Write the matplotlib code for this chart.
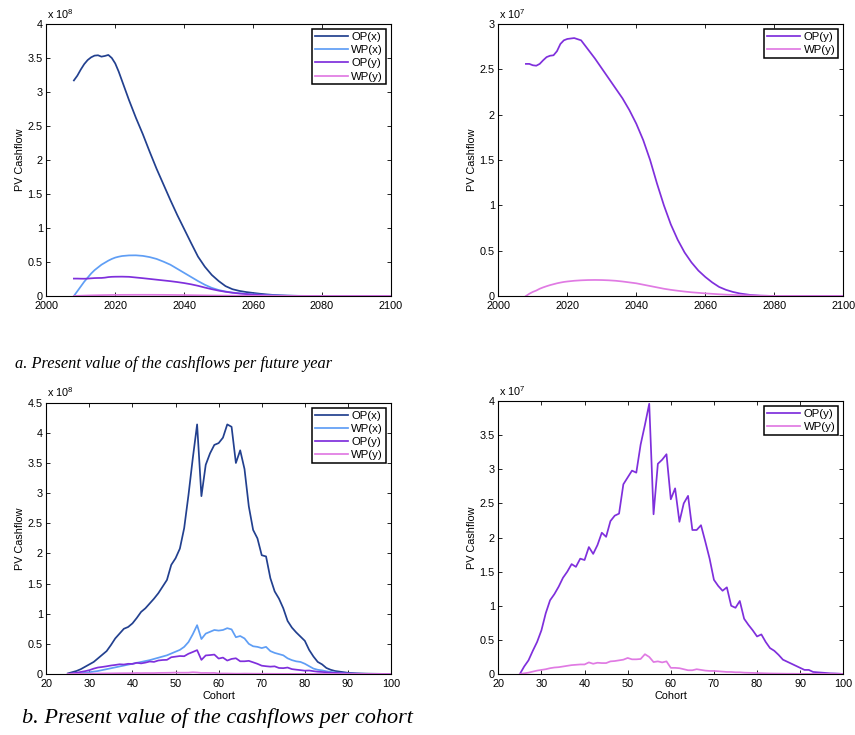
import matplotlib
matplotlib.use("Agg")
import matplotlib.pyplot as plt
from matplotlib.ticker import FuncFormatter, MultipleLocator
import numpy as np

plt.rcParams['font.family'] = ['Liberation Sans', 'DejaVu Sans']
plt.rcParams['mathtext.fontset'] = 'custom'
plt.rcParams['mathtext.rm'] = 'Liberation Sans'
plt.rcParams['mathtext.it'] = 'Liberation Sans:italic'

# ---------------- data: per future year ----------------
years = [2008, 2009, 2010, 2011, 2012, 2013, 2014, 2015, 2016, 2017, 2018, 2019,
         2020, 2021, 2022, 2024, 2026, 2028, 2030, 2032, 2034, 2036, 2038, 2040,
         2042, 2044, 2046, 2048, 2050, 2052, 2054, 2056, 2058, 2060, 2062, 2064,
         2066, 2068, 2070, 2073, 2076, 2080, 2090, 2100]

# units of 1e8
op_x_year = [3.17, 3.24, 3.33, 3.41, 3.47, 3.51, 3.535, 3.54, 3.52, 3.53, 3.545, 3.50,
             3.42, 3.30, 3.16, 2.88, 2.62, 2.38, 2.12, 1.87, 1.64, 1.41, 1.19, 0.985,
             0.78, 0.58, 0.43, 0.31, 0.22, 0.145, 0.10, 0.075, 0.058, 0.045, 0.033, 0.023,
             0.015, 0.009, 0.005, 0.002, 0.001, 0.0, 0.0, 0.0]
wp_x_year = [0.0, 0.07, 0.14, 0.21, 0.27, 0.33, 0.38, 0.42, 0.46, 0.49, 0.52, 0.545,
             0.565, 0.578, 0.588, 0.597, 0.598, 0.59, 0.572, 0.545, 0.505, 0.46, 0.40, 0.34,
             0.28, 0.22, 0.165, 0.12, 0.088, 0.066, 0.05, 0.04, 0.032, 0.025, 0.019, 0.014,
             0.01, 0.007, 0.005, 0.003, 0.0015, 0.0, 0.0, 0.0]
# units of 1e7
op_y_year = [2.56, 2.56, 2.545, 2.54, 2.56, 2.60, 2.635, 2.65, 2.655, 2.70, 2.78, 2.82,
             2.835, 2.84, 2.845, 2.82, 2.72, 2.62, 2.51, 2.40, 2.29, 2.18, 2.05, 1.90,
             1.72, 1.50, 1.24, 1.00, 0.79, 0.62, 0.48, 0.37, 0.28, 0.21, 0.15, 0.10,
             0.068, 0.045, 0.028, 0.012, 0.004, 0.0, 0.0, 0.0]
wp_y_year = [0.0, 0.025, 0.045, 0.06, 0.08, 0.095, 0.108, 0.12, 0.13, 0.14, 0.148, 0.155,
             0.16, 0.164, 0.168, 0.173, 0.176, 0.177, 0.176, 0.173, 0.168, 0.16, 0.15, 0.14,
             0.125, 0.11, 0.095, 0.08, 0.068, 0.058, 0.049, 0.041, 0.035, 0.029, 0.024, 0.019,
             0.015, 0.012, 0.009, 0.006, 0.003, 0.001, 0.0, 0.0]

# ---------------- data: per cohort ----------------
cohorts = list(range(25, 101))
# units of 1e8
op_x_coh = [0.01, 0.03, 0.05, 0.08, 0.12, 0.16, 0.20, 0.26, 0.32, 0.38,
            0.48, 0.59, 0.67, 0.75, 0.78, 0.84, 0.93, 1.03, 1.09, 1.17,
            1.25, 1.34, 1.45, 1.56, 1.81, 1.92, 2.08, 2.42, 2.97, 3.58,
            4.14, 2.95, 3.47, 3.66, 3.80, 3.83, 3.92, 4.14, 4.10, 3.50,
            3.71, 3.40, 2.78, 2.39, 2.25, 1.97, 1.95, 1.59, 1.37, 1.25,
            1.09, 0.88, 0.77, 0.69, 0.62, 0.55, 0.40, 0.29, 0.20, 0.16,
            0.10, 0.07, 0.05, 0.04, 0.03, 0.02, 0.015, 0.01, 0.008, 0.006,
            0.005, 0.004, 0.003, 0.002, 0.001, 0.0]
wp_x_coh = [0.0, 0.005, 0.01, 0.015, 0.02, 0.03, 0.04, 0.05, 0.065, 0.08,
            0.095, 0.11, 0.125, 0.14, 0.155, 0.17, 0.185, 0.20, 0.215, 0.23,
            0.25, 0.27, 0.29, 0.31, 0.34, 0.37, 0.40, 0.45, 0.53, 0.66,
            0.81, 0.58, 0.67, 0.70, 0.73, 0.72, 0.73, 0.76, 0.74, 0.61,
            0.63, 0.59, 0.50, 0.46, 0.45, 0.43, 0.45, 0.38, 0.35, 0.33,
            0.31, 0.26, 0.23, 0.21, 0.20, 0.17, 0.13, 0.09, 0.07, 0.06,
            0.045, 0.035, 0.025, 0.018, 0.012, 0.008, 0.006, 0.005, 0.004, 0.003,
            0.002, 0.002, 0.001, 0.001, 0.0, 0.0]
# units of 1e7
op_y_coh = [0.0, 0.11, 0.20, 0.34, 0.47, 0.64, 0.89, 1.08, 1.17, 1.28,
            1.41, 1.50, 1.61, 1.57, 1.69, 1.67, 1.86, 1.76, 1.89, 2.07,
            2.01, 2.24, 2.32, 2.35, 2.78, 2.88, 2.98, 2.95, 3.36, 3.65,
            3.96, 2.34, 3.08, 3.14, 3.22, 2.56, 2.72, 2.23, 2.50, 2.61,
            2.11, 2.11, 2.18, 1.94, 1.69, 1.38, 1.29, 1.22, 1.27, 1.00,
            0.97, 1.07, 0.81, 0.72, 0.64, 0.55, 0.58, 0.47, 0.38, 0.34,
            0.28, 0.21, 0.18, 0.15, 0.12, 0.09, 0.06, 0.06, 0.03, 0.025,
            0.02, 0.015, 0.01, 0.008, 0.005, 0.0]
wp_y_coh = [0.0, 0.01, 0.02, 0.035, 0.05, 0.06, 0.07, 0.085, 0.095, 0.10,
            0.11, 0.12, 0.13, 0.135, 0.14, 0.14, 0.17, 0.15, 0.165, 0.16,
            0.16, 0.185, 0.19, 0.20, 0.21, 0.235, 0.215, 0.215, 0.22, 0.29,
            0.25, 0.175, 0.185, 0.17, 0.185, 0.09, 0.09, 0.085, 0.07, 0.055,
            0.055, 0.07, 0.06, 0.05, 0.045, 0.045, 0.04, 0.035, 0.03, 0.03,
            0.025, 0.025, 0.02, 0.018, 0.016, 0.014, 0.012, 0.01, 0.008, 0.007,
            0.006, 0.005, 0.004, 0.004, 0.003, 0.003, 0.002, 0.002, 0.002, 0.001,
            0.001, 0.001, 0.001, 0.0, 0.0, 0.0]

labels = ['OP(x)', 'WP(x)', 'OP(y)', 'WP(y)']
colors = ['#22408f', '#5f9ef5', '#7f2fdc', '#e07ae3']
caption_a = 'a. Present value of the cashflows per future year'
caption_b = 'b. Present value of the cashflows per cohort'

# ---------------- figure ----------------
fig = plt.figure(figsize=(8.55, 7.35), dpi=100)
W, H = 855.0, 735.0

def make_ax(l, t, r, b):
    return fig.add_axes([l / W, 1 - b / H, (r - l) / W, (b - t) / H])

ax_tl = make_ax(46.3, 24, 391, 296)
ax_tr = make_ax(498.3, 24, 843.3, 296)
ax_bl = make_ax(46.3, 402.7, 391, 674)
ax_br = make_ax(498.3, 401, 843.3, 674)

fmt = FuncFormatter(lambda v, p: f'{v:g}')
LW = 1.25
FS = 7.8

def style(ax, xlim, xstep, ylim, exp, xlabel=None):
    ax.set_xlim(*xlim)
    ax.set_ylim(*ylim)
    ax.xaxis.set_major_locator(MultipleLocator(xstep))
    ax.yaxis.set_major_locator(MultipleLocator(0.5))
    ax.xaxis.set_major_formatter(fmt)
    ax.yaxis.set_major_formatter(fmt)
    ax.tick_params(direction='in', top=True, right=True, length=3, width=0.6,
                   labelsize=FS)
    ax.tick_params(axis='x', pad=3.5)
    ax.tick_params(axis='y', pad=2.5)
    for s in ax.spines.values():
        s.set_linewidth(0.8)
    ax.set_ylabel('PV Cashflow', fontsize=FS)
    ax.yaxis.set_label_coords(-0.062, 0.5)
    if xlabel:
        ax.set_xlabel(xlabel, fontsize=FS, labelpad=1.5)
    ax.annotate('x 10$^{%d}$' % exp, xy=(0, 1), xycoords='axes fraction',
                xytext=(0.5, 2.5), textcoords='offset points', fontsize=FS,
                ha='left', va='bottom')
    leg = ax.legend(loc='upper right', fontsize=8.2, handlelength=2.9,
                    fancybox=False, framealpha=1, edgecolor='black',
                    borderpad=0.25, labelspacing=0.28, handletextpad=0.3,
                    borderaxespad=0.45)
    leg.get_frame().set_linewidth(1.1)

# top-left: all four series (1e8)
yr = np.array(years)
for vals, scale, lab, c in zip([op_x_year, wp_x_year, op_y_year, wp_y_year],
                               [1, 1, 0.1, 0.1], labels, colors):
    ax_tl.plot(yr, np.array(vals) * scale, color=c, lw=LW, label=lab)
style(ax_tl, (2000, 2100), 20, (0, 4), 8)

# top-right: y series (1e7)
for vals, lab, c in zip([op_y_year, wp_y_year], labels[2:], colors[2:]):
    ax_tr.plot(yr, vals, color=c, lw=LW, label=lab)
style(ax_tr, (2000, 2100), 20, (0, 3), 7)

# bottom-left: all four per cohort (1e8)
co = np.array(cohorts)
for vals, scale, lab, c in zip([op_x_coh, wp_x_coh, op_y_coh, wp_y_coh],
                               [1, 1, 0.1, 0.1], labels, colors):
    ax_bl.plot(co, np.array(vals) * scale, color=c, lw=LW, label=lab)
style(ax_bl, (20, 100), 10, (0, 4.5), 8, xlabel='Cohort')

# bottom-right: y series per cohort (1e7)
for vals, lab, c in zip([op_y_coh, wp_y_coh], labels[2:], colors[2:]):
    ax_br.plot(co, vals, color=c, lw=LW, label=lab)
style(ax_br, (20, 100), 10, (0, 4), 7, xlabel='Cohort')

# captions
fig.text(15 / W, 1 - 368 / H, caption_a, family='Liberation Serif', style='italic',
         fontsize=11.8, ha='left', va='baseline')
fig.text(22 / W, 1 - 723 / H, caption_b, family='Liberation Serif', style='italic',
         fontsize=16.0, ha='left', va='baseline')

fig.savefig('out.png', dpi=100)
